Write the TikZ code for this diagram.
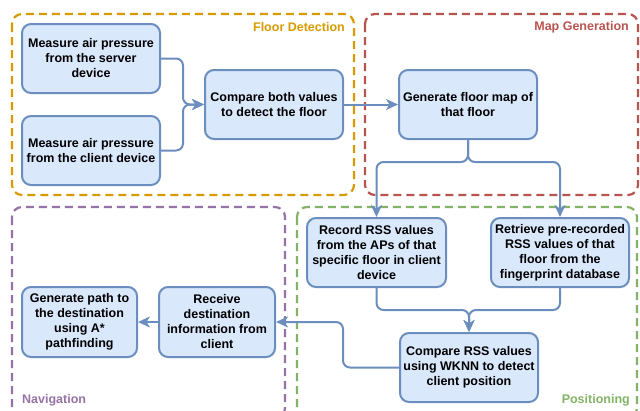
\documentclass[tikz,border=0pt]{standalone}
\usepackage{fontspec}
\setmainfont{Liberation Sans}
\usetikzlibrary{arrows.meta}
\definecolor{nfill}{HTML}{DAE8FC}
\definecolor{nstroke}{HTML}{6C8EBF}
\definecolor{gorange}{HTML}{D79B00}
\definecolor{gred}{HTML}{B85450}
\definecolor{gpurple}{HTML}{9673A6}
\definecolor{ggreen}{HTML}{82B366}
\tikzset{
  stepbox/.style={draw=nstroke, fill=nfill, line width=2pt, rounded corners=9pt,
    align=center, font=\fontsize{12.5}{15}\selectfont\bfseries, inner sep=0pt},
  groupbox/.style={line width=2.2pt, dash pattern=on 8pt off 5pt, rounded corners=10pt},
  grouplabel/.style={font=\fontsize{12.5}{14}\selectfont\bfseries, inner sep=0pt},
  conn/.style={draw=nstroke, line width=2pt, rounded corners=7pt},
  arr/.style={conn, -{Stealth[length=12pt,width=11pt,inset=3.5pt]}},
}
\begin{document}
\begin{tikzpicture}[x=1pt,y=-1pt]
\useasboundingbox (0,0) rectangle (640,410);
% groups
\draw[groupbox, draw=gorange] (12,14) rectangle (354,195);
\draw[groupbox, draw=gred] (365,14) rectangle (638,195);
\draw[groupbox, draw=gpurple] (12,207) rectangle (285,418);
\draw[groupbox, draw=ggreen] (297,207) rectangle (637,418);
\node[grouplabel, text=gorange, anchor=east] (lfd) at (345,27) {Floor Detection};
\node[grouplabel, text=gred, anchor=east] (lmg) at (629,27) {Map Generation};
\node[grouplabel, text=gpurple, anchor=west] (lnav) at (22,400) {Navigation};
\node[grouplabel, text=ggreen, anchor=east] (lpos) at (630,400) {Positioning};
% nodes
\node[stepbox, minimum width=138pt, minimum height=69pt] (A) at (91,58.5) {Measure air pressure\\from the server\\device};
\node[stepbox, minimum width=138pt, minimum height=69pt] (B) at (91,150.5) {Measure air pressure\\from the client device};
\node[stepbox, minimum width=138pt, minimum height=69pt] (C) at (274,104.5) {Compare both values\\to detect the floor};
\node[stepbox, minimum width=138pt, minimum height=69pt] (D) at (468,104.5) {Generate floor map of\\that floor};
\node[stepbox, minimum width=139pt, minimum height=69pt] (E) at (376.5,252.5) {Record RSS values\\from the APs of that\\specific floor in client\\device};
\node[stepbox, minimum width=138pt, minimum height=69pt] (F) at (560,252.5) {Retrieve pre-recorded\\RSS values of that\\floor from the\\fingerprint database};
\node[stepbox, minimum width=138pt, minimum height=69pt] (G) at (469,367.5) {Compare RSS values\\using WKNN to detect\\client position};
\node[stepbox, minimum width=116pt, minimum height=70pt] (H) at (217,322) {Receive\\destination\\information from\\client};
\node[stepbox, minimum width=115pt, minimum height=70pt] (I) at (79.5,322) {Generate path to\\the destination\\using A*\\pathfinding};
% connectors
\draw[arr] (A.east) -- (183,58.5) -- (183,104.5) -- (C.west);
\draw[arr] (B.east) -- (183,150.5) -- (183,104.5) -- (C.west);
\draw[arr] (C.east) -- (D.west);
\draw[arr] (D.south) -- (468,162) -- (376.5,162) -- (E.north);
\draw[arr] (D.south) -- (468,162) -- (560,162) -- (F.north);
\draw[arr] (E.south) -- (376.5,310) -- (469,310) -- (G.north);
\draw[arr] (F.south) -- (560,310) -- (469,310) -- (G.north);
\draw[arr] (G.west) -- (343,367.5) -- (343,322) -- (H.east);
\draw[arr] (H.west) -- (I.east);
\end{tikzpicture}
\end{document}
